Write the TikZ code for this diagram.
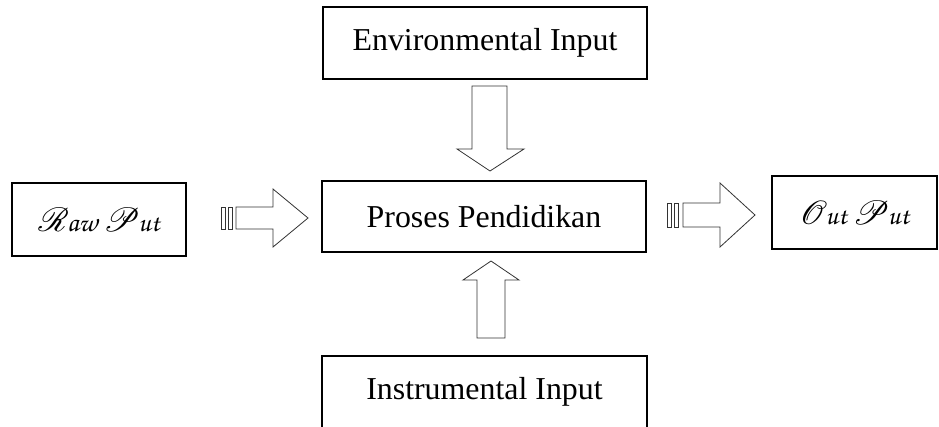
\documentclass[tikz,border=0pt]{standalone}
\usepackage[T1]{fontenc}
\usepackage{mathrsfs}
\usepackage{fontspec}
\setmainfont{Liberation Serif}
\usetikzlibrary{calc}
% chancery face for the lowercase of the raw/out labels
\newcommand\callig{\fontencoding{T1}\fontfamily{pzc}\fontseries{mb}\fontshape{it}\selectfont}
% flourished capital, enlarged
\newcommand\flcap[1]{\scalebox{1.35}{$\mathscr{#1}$}\kern-0.06em}

% horizontal block arrow with two tail bars:
% #1 bar1 left, #2 shaft start, #3 head base, #4 tip x, #5 centre y, #6 shaft half height, #7 head half height
\newcommand\barredarrow[7]{%
  \draw[blockarrow] (#1,#5-#6) rectangle ++(4,2*#6);
  \draw[blockarrow] (#1+7,#5-#6) rectangle ++(4,2*#6);
  \draw[blockarrow] (#2,#5-#6) -- (#3,#5-#6) -- (#3,#5-#7) -- (#4,#5)
     -- (#3,#5+#7) -- (#3,#5+#6) -- (#2,#5+#6) -- cycle;}

\tikzset{
  box/.style={draw=black, line width=1.3bp, inner sep=0pt, fill=white,
              font=\fontsize{32}{38}\selectfont},
  scriptbox/.style={box, font=\callig\fontsize{27.5}{33}\selectfont},
  blockarrow/.style={draw=black!80, line width=0.8bp, fill=white, line join=miter},
}

\begin{document}
\begin{tikzpicture}[x=1bp,y=-1bp]
\useasboundingbox (0,0) rectangle (939,426);
\clip (0,0) rectangle (939,426);

% boxes
\node[box, minimum width=324bp, minimum height=72bp] (env) at (485,43) {Environmental Input};
\node[box, minimum width=324bp, minimum height=71bp] (proc) at (484,216.5) {Proses Pendidikan};
\node[box, minimum width=325bp, minimum height=72bp] (instr) at (484.5,392) {Instrumental Input};
\node[scriptbox, minimum width=174bp, minimum height=73bp] (raw) at (99,219.5) {\flcap{R}aw \flcap{P}ut};
\node[scriptbox, minimum width=165bp, minimum height=73bp] (out) at (854.5,212.5) {\flcap{O}ut \flcap{P}ut};

% vertical block arrows
\draw[blockarrow] (472,86) -- (507,86) -- (507,149) -- (524,149) -- (490,171)
   -- (457,149) -- (472,149) -- cycle;
\draw[blockarrow] (477,338) -- (505,338) -- (505,280) -- (519,280) -- (491,261)
   -- (463,280) -- (477,280) -- cycle;

% horizontal barred arrows
\barredarrow{221}{236}{273}{308}{218}{11}{29}
\barredarrow{667}{683}{720}{755}{215}{12}{32}
\end{tikzpicture}
\end{document}
